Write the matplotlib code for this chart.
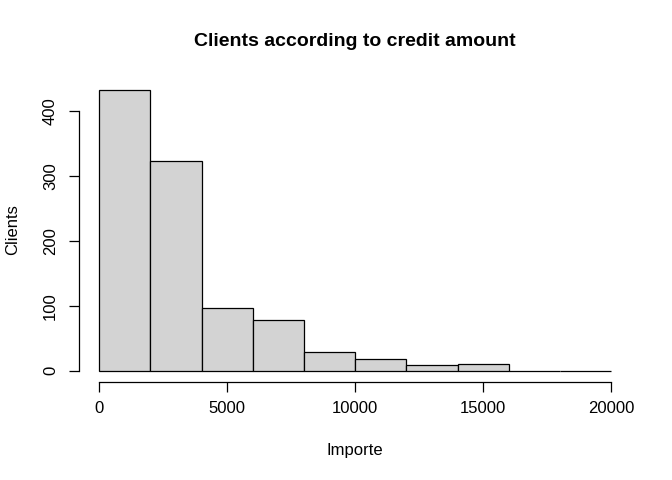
import matplotlib
matplotlib.use("Agg")
import matplotlib.pyplot as plt
import numpy as np

plt.rcParams['font.family'] = ['Liberation Sans', 'DejaVu Sans']

# Histogram data
bin_edges = [0, 2000, 4000, 6000, 8000, 10000, 12000, 14000, 16000, 18000, 20000]
counts = [432, 322, 97, 78, 29, 18, 9, 10, 0, 0]
x_ticks = [0, 5000, 10000, 15000, 20000]
y_ticks = [0, 100, 200, 300, 400]
title = "Clients according to credit amount"
xlabel = "Importe"
ylabel = "Clients"

W, H = 672, 480
fig = plt.figure(figsize=(W / 100, H / 100), dpi=100)
left, right, top, bottom = 78.7, 631.7, 78.7, 382.1
ax = fig.add_axes([left / W, (H - bottom) / H, (right - left) / W, (bottom - top) / H])

edges = np.array(bin_edges)
ax.bar(edges[:-1], counts, width=np.diff(edges), align='edge',
       color='#D3D3D3', edgecolor='black', linewidth=0.9)

ax.set_xlim(-800, 20800)
ymax = max(counts)
ax.set_ylim(-0.04 * ymax, 1.04 * ymax)

for s in ['top', 'right']:
    ax.spines[s].set_visible(False)
ax.spines['left'].set_bounds(y_ticks[0], y_ticks[-1])
ax.spines['bottom'].set_bounds(x_ticks[0], x_ticks[-1])
ax.spines['left'].set_linewidth(0.9)
ax.spines['bottom'].set_linewidth(0.9)

ax.set_xticks(x_ticks)
ax.set_xticklabels([str(v) for v in x_ticks])
ax.set_yticks(y_ticks)
ax.set_yticklabels([str(v) for v in y_ticks], rotation=90, va='center')
ax.tick_params(axis='both', length=6.9, width=0.9, labelsize=12, colors='black')
ax.tick_params(axis='x', pad=7)
ax.tick_params(axis='y', pad=8)

fig.text(355 / W, 1 - 41 / H, title, ha='center', va='center',
         fontsize=14, fontweight='bold')
fig.text(355 / W, 1 - 450 / H, xlabel, ha='center', va='center', fontsize=12)
fig.text(13 / W, 1 - 230 / H, ylabel, ha='center', va='center', fontsize=12, rotation=90)

fig.savefig('out.png', dpi=100)
